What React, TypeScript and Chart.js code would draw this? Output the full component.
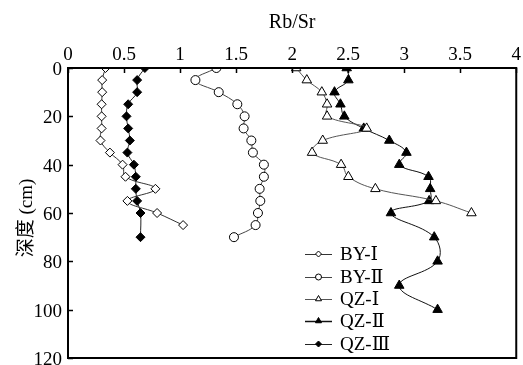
import React, { useEffect, useRef } from "react";
import { Chart, registerables } from "chart.js";
Chart.register(...registerables);

const seriesNames = ["BY-Ⅰ", "BY-Ⅱ", "QZ-Ⅰ", "QZ-Ⅱ", "QZ-Ⅲ"];

const depthBY1 = [0, 5, 10, 15, 20, 25, 30, 35, 40, 45, 50, 55, 60, 65];
const valBY1 = [0.335, 0.305, 0.305, 0.3, 0.3, 0.3, 0.29, 0.374, 0.487, 0.513, 0.78, 0.53, 0.795, 1.027];

const depthBY2 = [0, 5, 10, 15, 20, 25, 30, 35, 40, 45, 50, 55, 60, 65, 70];
const valBY2 = [1.324, 1.137, 1.345, 1.511, 1.576, 1.567, 1.636, 1.65, 1.748, 1.748, 1.71, 1.716, 1.695, 1.674, 1.481];

const depthQZ1 = [0, 5, 10, 15, 20, 25, 30, 35, 40, 45, 50, 55, 60];
const valQZ1 = [2.036, 2.131, 2.265, 2.312, 2.312, 2.665, 2.273, 2.178, 2.437, 2.502, 2.743, 3.283, 3.6];

const depthQZ2 = [0, 5, 10, 15, 20, 25, 30, 35, 40, 45, 50, 55, 60, 70, 80, 90, 100];
const valQZ2 = [2.487, 2.502, 2.378, 2.431, 2.466, 2.639, 2.867, 3.02, 2.956, 3.217, 3.232, 3.223, 2.882, 3.268, 3.298, 2.956, 3.298];

const depthQZ3 = [0, 5, 10, 15, 20, 25, 30, 35, 40, 45, 50, 55, 60, 70];
const valQZ3 = [0.686, 0.617, 0.617, 0.537, 0.522, 0.537, 0.552, 0.53, 0.588, 0.605, 0.605, 0.617, 0.647, 0.647];

const xTitle = "Rb/Sr";
const yTitle = "深度 (cm)";

const SERIF = "'Liberation Serif', 'Times New Roman', 'DejaVu Serif', 'Noto Sans CJK SC', serif";

const pts = (xs: number[], ys: number[]) => xs.map((v, i) => ({ x: v, y: ys[i] }));

type Style = { ps: string; fill: string; line: string; r: number; lw: number; lr: number };
const styles: Style[] = [
  { ps: "rectRot", fill: "#ffffff", line: "#333333", r: 4.5, lw: 1, lr: 3 },
  { ps: "circle", fill: "#ffffff", line: "#444444", r: 4.5, lw: 1, lr: 3 },
  { ps: "triangle", fill: "#ffffff", line: "#555555", r: 5.5, lw: 1, lr: 3.5 },
  { ps: "triangle", fill: "#000000", line: "#111111", r: 5.5, lw: 1, lr: 3.5 },
  { ps: "rectRot", fill: "#000000", line: "#222222", r: 4.5, lw: 1, lr: 3 },
];

const framePlugin = {
  id: "frame",
  afterDraw(chart: any) {
    const ctx = chart.ctx as CanvasRenderingContext2D;
    const { left, right, top, bottom } = chart.chartArea;
    const xs = chart.scales.x;
    const ys = chart.scales.y;
    ctx.save();
    ctx.strokeStyle = "#000";
    ctx.lineWidth = 2;
    ctx.strokeRect(left, top, right - left, bottom - top);
    ctx.lineWidth = 1.5;
    ctx.beginPath();
    xs.ticks.forEach((t: any) => {
      const px = Math.round(xs.getPixelForValue(t.value)) + 0.5;
      ctx.moveTo(px, top);
      ctx.lineTo(px, top + 5);
    });
    ys.ticks.forEach((t: any) => {
      const py = Math.round(ys.getPixelForValue(t.value)) + 0.5;
      ctx.moveTo(left, py);
      ctx.lineTo(left + 5, py);
    });
    ctx.stroke();

    // axis titles
    ctx.fillStyle = "#000";
    ctx.font = `20px ${SERIF}`;
    ctx.textAlign = "center";
    ctx.textBaseline = "middle";
    ctx.fillText(xTitle, (left + right) / 2, 23);
    ctx.save();
    ctx.translate(27, 218);
    ctx.rotate(-Math.PI / 2);
    ctx.font = `19px ${SERIF}`;
    ctx.fillText(yTitle, 0, 0);
    ctx.restore();

    // legend
    const rows = [254, 277, 299, 321, 344];
    seriesNames.forEach((name, i) => {
      const s = styles[i];
      const y = rows[i];
      ctx.strokeStyle = s.line;
      ctx.lineWidth = i === 3 ? 1.5 : 1;
      ctx.beginPath();
      ctx.moveTo(305, y + 0.5);
      ctx.lineTo(332, y + 0.5);
      ctx.stroke();
      ctx.fillStyle = s.fill;
      ctx.strokeStyle = "#000";
      ctx.lineWidth = 1;
      ctx.beginPath();
      const cx = 318.5;
      const r = s.lr;
      if (s.ps === "rectRot") {
        ctx.moveTo(cx - r, y);
        ctx.lineTo(cx, y - r);
        ctx.lineTo(cx + r, y);
        ctx.lineTo(cx, y + r);
        ctx.closePath();
      } else if (s.ps === "circle") {
        ctx.arc(cx, y, r, 0, Math.PI * 2);
      } else {
        ctx.moveTo(cx, y - r);
        ctx.lineTo(cx + r * 0.866, y + r * 0.5);
        ctx.lineTo(cx - r * 0.866, y + r * 0.5);
        ctx.closePath();
      }
      ctx.fill();
      ctx.stroke();
      ctx.fillStyle = "#000";
      ctx.font = `19px ${SERIF}`;
      ctx.textAlign = "left";
      ctx.textBaseline = "middle";
      ctx.fillText(name, 340, y + 1);
    });
    ctx.restore();
  },
};

export default function App() {
  const ref = useRef<HTMLCanvasElement>(null);
  useEffect(() => {
    const canvas = ref.current!;
    const data = [
      pts(valBY1, depthBY1),
      pts(valBY2, depthBY2),
      pts(valQZ1, depthQZ1),
      pts(valQZ2, depthQZ2),
      pts(valQZ3, depthQZ3),
    ];
    const chart = new Chart(canvas, {
      type: "scatter",
      data: {
        datasets: data.map((d, i) => ({
          label: seriesNames[i],
          data: d,
          showLine: true,
          tension: 0.4,
          borderColor: styles[i].line,
          borderWidth: styles[i].lw,
          pointStyle: styles[i].ps as any,
          pointRadius: styles[i].r,
          pointBackgroundColor: styles[i].fill,
          pointBorderColor: "#000",
          pointBorderWidth: 1,
        })),
      },
      plugins: [framePlugin],
      options: {
        responsive: false,
        animation: false,
        devicePixelRatio: 1,
        layout: { padding: { left: 0, right: 6, top: 0, bottom: 22 } },
        plugins: { legend: { display: false }, tooltip: { enabled: false } },
        scales: {
          x: {
            type: "linear",
            position: "top",
            min: 0,
            max: 4,
            ticks: {
              stepSize: 0.5,
              color: "#000",
              padding: 2,
              font: { family: SERIF, size: 19 },
              callback: (v: any) => String(Number(v)),
            },
            grid: { display: false, drawTicks: false },
            border: { display: false },
            afterFit: (s: any) => { s.height = 68; },
          },
          y: {
            type: "linear",
            reverse: true,
            min: 0,
            max: 120,
            ticks: {
              stepSize: 20,
              color: "#000",
              padding: 6,
              labelOffset: 2,
              font: { family: SERIF, size: 19 },
              callback: (v: any) => String(Number(v)),
            },
            grid: { display: false, drawTicks: false },
            border: { display: false },
            afterFit: (s: any) => { s.width = 68; },
          },
        },
      },
    });
    return () => chart.destroy();
  }, []);
  return (
    <div style={{ position: "fixed", left: 0, top: 0, width: 523, height: 365, overflow: "hidden", background: "#fff" }}>
      <canvas ref={ref} width={523} height={380} style={{ display: "block" }} />
    </div>
  );
}
